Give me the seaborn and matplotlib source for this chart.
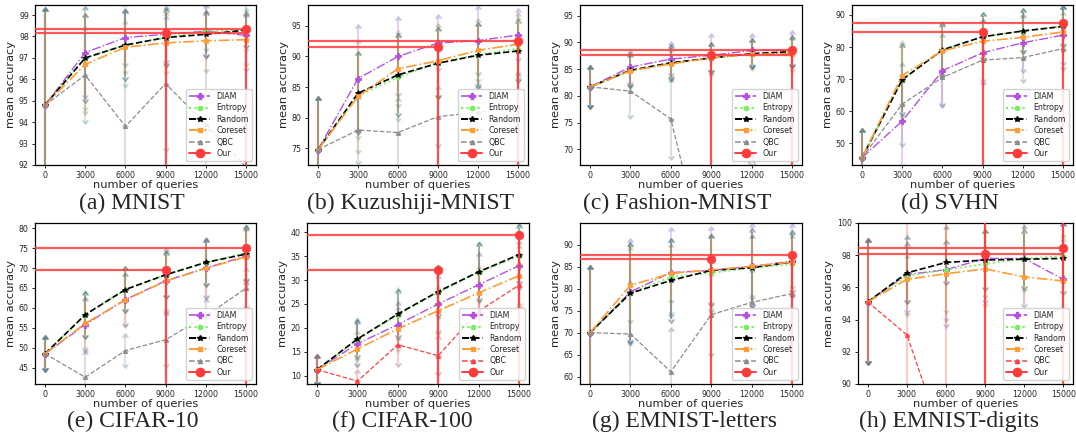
import numpy as np
import matplotlib
matplotlib.use("Agg")
import matplotlib.pyplot as plt
from matplotlib.lines import Line2D
import seaborn as sns

# ---------------- data ----------------
queries = [0, 3000, 6000, 9000, 12000, 15000]
our_queries = [9000, 15000]
methods = ["DIAM", "Entropy", "Random", "Coreset", "QBC"]
datasets = ["MNIST", "Kuzushiji-MNIST", "Fashion-MNIST", "SVHN",
            "CIFAR-10", "CIFAR-100", "EMNIST-letters", "EMNIST-digits"]
letters = ["a", "b", "c", "d", "e", "f", "g", "h"]

mnist_mean = {"DIAM": [94.8, 97.25, 97.95, 98.1, 98.25, 98.05],
              "Entropy": [94.8, 97.0, 97.6, 97.95, 98.25, 98.3],
              "Random": [94.8, 97.0, 97.6, 97.95, 98.1, 98.3],
              "Coreset": [94.8, 96.7, 97.5, 97.7, 97.8, 97.85],
              "QBC": [94.8, 96.2, 93.8, 95.8, 93.9, 91.9]}
mnist_err = {"DIAM": [4.4, 2.0, 1.2, 1.2, 1.1, 1.5],
             "Entropy": [4.4, 2.3, 1.8, 1.3, 0.8, 0.9],
             "Random": [4.4, 1.9, 1.5, 1.2, 0.9, 0.7],
             "Coreset": [4.4, 2.2, 1.1, 1.3, 1.3, 1.1],
             "QBC": [4.4, 2.1, 5.3, 3.0, 5.5, 7.0]}
mnist_our = [98.15, 98.35]

kmnist_mean = {"DIAM": [74.8, 86.4, 90.0, 92.2, 92.6, 93.5],
               "Entropy": [74.8, 83.6, 86.6, 89.0, 90.3, 91.3],
               "Random": [74.8, 84.0, 87.0, 88.9, 90.2, 90.9],
               "Coreset": [74.8, 83.5, 88.0, 89.3, 91.0, 92.0],
               "QBC": [74.8, 78.0, 77.6, 80.2, 80.9, 81.8]}
kmnist_err = {"DIAM": [8.1, 8.2, 6.0, 4.1, 5.2, 3.7],
              "Entropy": [8.1, 6.6, 6.6, 5.4, 4.7, 4.7],
              "Random": [8.1, 6.2, 6.2, 5.2, 4.8, 4.6],
              "Coreset": [8.1, 8.7, 5.7, 5.5, 4.6, 4.6],
              "QBC": [8.1, 5.0, 5.1, 4.5, 4.0, 5.0]}
kmnist_our = [91.55, 92.6]

fashion_mean = {"DIAM": [81.7, 85.4, 86.9, 87.6, 88.5, 88.6],
                "Entropy": [81.7, 84.7, 86.1, 87.1, 87.9, 88.2],
                "Random": [81.7, 84.8, 86.2, 87.1, 87.9, 88.3],
                "Coreset": [81.7, 84.7, 86.0, 87.1, 87.8, 87.9],
                "QBC": [81.7, 80.9, 75.7, 45.0, 69.0, 50.0]}
fashion_err = {"DIAM": [3.3, 2.7, 2.7, 3.4, 2.5, 2.9],
               "Entropy": [3.3, 2.6, 2.7, 2.2, 2.2, 2.3],
               "Random": [3.3, 2.6, 2.7, 2.2, 2.1, 2.3],
               "Coreset": [3.3, 2.6, 2.2, 2.2, 2.3, 2.8],
               "QBC": [3.3, 4.4, 6.9, 5.0, 1.5, 5.0]}
fashion_our = [87.65, 88.5]

svhn_mean = {"DIAM": [45.5, 56.9, 72.6, 78.2, 81.3, 83.7],
             "Entropy": [45.5, 69.8, 79.1, 83.1, 85.0, 86.5],
             "Random": [45.5, 69.8, 79.1, 83.2, 85.0, 86.4],
             "Coreset": [45.5, 71.1, 78.8, 81.8, 83.0, 84.7],
             "QBC": [45.5, 62.2, 70.5, 75.9, 76.7, 79.5]}
svhn_err = {"DIAM": [8.0, 13.5, 10.4, 9.2, 8.2, 8.3],
            "Entropy": [8.0, 11.1, 7.7, 6.5, 6.0, 5.3],
            "Random": [8.0, 10.2, 7.6, 6.4, 6.0, 5.5],
            "Coreset": [8.0, 9.0, 7.5, 6.0, 6.2, 5.4],
            "QBC": [8.0, 12.0, 8.0, 6.0, 6.8, 5.6]}
svhn_our = [84.6, 87.5]

cifar10_mean = {"DIAM": [48.5, 55.8, 62.1, 66.8, 70.0, 73.0],
                "Entropy": [48.5, 58.3, 64.6, 68.3, 71.4, 73.8],
                "Random": [48.5, 58.3, 64.6, 68.3, 71.4, 73.5],
                "Coreset": [48.5, 56.1, 62.0, 66.7, 69.9, 72.8],
                "QBC": [48.5, 42.6, 49.3, 52.0, 58.0, 64.9]}
cifar10_err = {"DIAM": [3.7, 6.0, 6.0, 7.5, 6.9, 6.5],
               "Entropy": [3.7, 5.1, 4.9, 5.1, 5.2, 6.2],
               "Random": [3.7, 5.0, 4.8, 5.0, 5.2, 6.2],
               "Coreset": [3.7, 6.0, 6.0, 7.0, 6.6, 6.5],
               "QBC": [3.7, 5.8, 3.4, 6.2, 3.5, 4.4]}
cifar10_our = [69.5, 75.0]

cifar100_mean = {"DIAM": [11.3, 16.7, 20.7, 25.0, 29.0, 33.0],
                 "Entropy": [11.3, 17.6, 22.8, 27.4, 31.6, 35.0],
                 "Random": [11.3, 17.7, 22.9, 27.6, 31.7, 35.3],
                 "Coreset": [11.3, 15.6, 19.8, 23.6, 27.3, 30.9],
                 "QBC": [11.3, 8.9, 16.5, 14.2, 23.5, 28.9]}
cifar100_err = {"DIAM": [2.5, 4.1, 4.0, 5.5, 6.0, 4.5],
                "Entropy": [2.5, 3.9, 5.0, 5.1, 5.7, 6.3],
                "Random": [2.5, 3.4, 4.4, 4.6, 5.4, 5.6],
                "Coreset": [2.5, 3.2, 4.0, 4.5, 5.0, 5.7],
                "QBC": [2.5, 1.7, 3.9, 3.4, 5.0, 4.3]}
cifar100_our = [32.0, 39.4]

emnistl_mean = {"DIAM": [70.0, 79.3, 83.7, 84.2, 85.1, 86.3],
                "Entropy": [70.0, 79.0, 82.7, 83.6, 84.8, 85.6],
                "Random": [70.0, 79.0, 81.9, 84.2, 84.8, 86.1],
                "Coreset": [70.0, 80.8, 83.5, 84.3, 85.1, 86.1],
                "QBC": [70.0, 69.7, 61.1, 74.1, 76.9, 78.9]}
emnistl_err = {"DIAM": [14.5, 11.4, 9.4, 9.1, 8.9, 7.8],
               "Entropy": [14.5, 10.6, 7.9, 7.9, 6.7, 6.7],
               "Random": [14.5, 10.7, 8.8, 7.4, 8.2, 6.3],
               "Coreset": [14.5, 8.0, 6.0, 7.4, 6.5, 5.4],
               "QBC": [14.5, 11.5, 9.3, 8.8, 7.0, 7.0]}
emnistl_our = [86.7, 87.8]

emnistd_mean = {"DIAM": [95.1, 96.8, 97.1, 97.8, 97.8, 96.5],
                "Entropy": [95.1, 96.7, 97.1, 97.45, 97.8, 97.95],
                "Random": [95.1, 96.9, 97.55, 97.7, 97.75, 97.8],
                "Coreset": [95.1, 96.5, 96.85, 97.15, 96.65, 96.4],
                "QBC": [95.1, 93.05, 86.0, 82.0, 83.0, 84.0]}
emnistd_err = {"DIAM": [3.7, 2.2, 3.4, 2.6, 2.85, 3.3],
               "Entropy": [3.7, 2.3, 2.5, 1.9, 1.9, 1.15],
               "Random": [3.7, 1.7, 1.15, 1.7, 1.65, 2.0],
               "Coreset": [3.7, 1.3, 2.75, 2.2, 3.0, 2.5],
               "QBC": [3.7, 12.0, 15.0, 5.0, 5.0, 5.0]}
emnistd_our = [98.1, 98.45]

# lower / upper spread of "Our" points
our_err_lo = [60, 60, 60, 60, 60, 60, 60, 60]
our_err_hi = [0, 0, 0, 0, 0, 0, 0, 10]

y_ticks = [list(range(92, 100, 1)), list(range(75, 96, 5)), list(range(70, 96, 5)),
           list(range(50, 91, 10)), list(range(45, 81, 5)), list(range(10, 41, 5)),
           list(range(60, 91, 5)), list(range(90, 101, 2))]
x_ticks = [0, 3000, 6000, 9000, 12000, 15000]

means = [mnist_mean, kmnist_mean, fashion_mean, svhn_mean,
         cifar10_mean, cifar100_mean, emnistl_mean, emnistd_mean]
errs = [mnist_err, kmnist_err, fashion_err, svhn_err,
        cifar10_err, cifar100_err, emnistl_err, emnistd_err]
ours = [mnist_our, kmnist_our, fashion_our, svhn_our,
        cifar10_our, cifar100_our, emnistl_our, emnistd_our]

# ---------------- layout / style ----------------
ylims = [(92, 99.47), (72.3, 98.4), (67.1, 97.0), (43.2, 93.1),
         (40.9, 81.3), (8.3, 41.9), (58.3, 95.0), (90, 100)]
hline_to_last = [True, False, True, False, False, False, False, True]
qbc_red = [False, False, False, False, False, True, False, True]

W, H = 1076, 438
boxes = [(35, 256, 5, 165), (308, 528, 5, 165), (580, 802, 5, 165), (852, 1073, 5, 165),
         (35, 256, 223, 384), (307, 529, 223, 384), (580, 802, 223, 384), (858, 1073, 223, 384)]
caption_x = [132, 411, 677, 950, 133, 402, 685, 949]
caption_base = [209.5, 209.5, 209.5, 209.5, 427, 427, 427, 427]

RED = "#ff3b3b"
styles = {
    "DIAM": dict(color="#b550e0", ls="-.", marker="P", ms=4.2, lw=1.0),
    "Entropy": dict(color="#72f25a", ls=":", marker="o", ms=3.0, lw=1.3),
    "Random": dict(color="black", ls="--", marker="*", ms=4.0, lw=1.2),
    "Coreset": dict(color="#ff9c33", ls="-.", marker="s", ms=3.0, lw=1.2),
    "QBC": dict(color="#8c8c8c", ls="--", marker="^", ms=3.0, lw=0.9),
}

sns.set_style("ticks")
plt.rcParams["font.family"] = ["DejaVu Sans"]
plt.rcParams["axes.linewidth"] = 0.9

fig = plt.figure(figsize=(W / 100, H / 100), dpi=100)

for i in range(8):
    l, r, t, b = boxes[i]
    ax = fig.add_axes([l / W, 1 - b / H, (r - l) / W, (b - t) / H])
    xlim = (-750, 15750)
    ax.set_xlim(*xlim)
    ax.set_ylim(*ylims[i])

    handles = []
    for m in methods:
        st = dict(styles[m])
        if m == "QBC" and qbc_red[i]:
            st["color"] = "#ff4040"
        y = means[i][m]
        e = errs[i][m]
        # faded error bars with caret ends
        for lo, up in [(True, False), (False, True)]:
            ax.errorbar(queries, y, yerr=e, fmt="none", ecolor=st["color"],
                        elinewidth=1.5, alpha=0.28, capsize=2.0,
                        lolims=lo, uplims=up, zorder=1)
        sns.lineplot(x=queries, y=y, ax=ax, color=st["color"], linestyle=st["ls"],
                     marker=st["marker"], markersize=st["ms"], linewidth=st["lw"],
                     markeredgecolor=st["color"], markeredgewidth=0.6,
                     legend=False, zorder=3)
        handles.append(Line2D([], [], color=st["color"], linestyle=st["ls"],
                              marker=st["marker"], markersize=st["ms"],
                              linewidth=st["lw"] + 0.2, label=m))

    ov = ours[i]
    ax.errorbar(our_queries, ov, yerr=[[our_err_lo[i]] * 2, [our_err_hi[i]] * 2],
                fmt="none", ecolor=RED, elinewidth=1.6, alpha=0.9, zorder=4)
    ends = [our_queries[-1] if hline_to_last[i] else our_queries[0], our_queries[-1]]
    ax.hlines(ov, xlim[0], ends, colors=RED, linewidth=1.6, alpha=0.85, zorder=4)
    sns.scatterplot(x=our_queries, y=ov, ax=ax, color=RED, s=38, marker="o",
                    edgecolor=RED, linewidth=0.5, legend=False, zorder=5)
    handles.append(Line2D([], [], color=RED, linestyle="-", marker="o",
                          markersize=6, linewidth=1.4, label="Our"))

    ax.set_xticks(x_ticks)
    ax.set_yticks(y_ticks[i])
    ax.tick_params(axis="both", labelsize=5.7, length=2.5, width=0.7, pad=2)
    ax.set_xlabel("number of queries", fontsize=8.2, labelpad=0)
    ax.set_ylabel("mean accuracy", fontsize=8.2, labelpad=2)
    for s in ax.spines.values():
        s.set_visible(True)
        s.set_color("black")

    leg = ax.legend(handles=handles, loc="lower right", fontsize=5.7,
                    handlelength=2.6, labelspacing=0.3, borderpad=0.4,
                    handletextpad=0.8, framealpha=0.85, borderaxespad=0.5)
    leg.set_zorder(10)

    fig.text(caption_x[i] / W, 1 - caption_base[i] / H, f"({letters[i]}) {datasets[i]}",
             ha="center", va="baseline", fontsize=17, family="Liberation Serif")

fig.savefig("out.png", dpi=100)
